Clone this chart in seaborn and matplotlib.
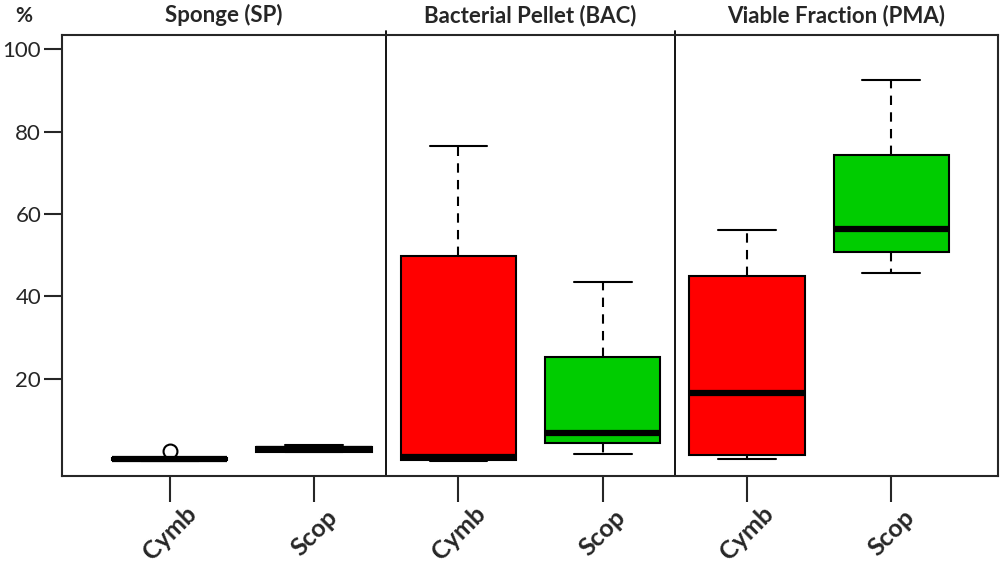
import pandas as pd
import matplotlib.pyplot as plt
import seaborn as sns

# Panels and groups
panels = ["Sponge (SP)", "Bacterial Pellet (BAC)", "Viable Fraction (PMA)"]
panel_keys = ["SP", "BAC", "PMA"]
species = ["Cymb", "Scop"]

# Values (whisker ends, hinges, median; SP Cymb has one outlier)
sp_cymb = [0.2, 0.3, 0.5, 0.5, 0.7, 0.8, 2.5]
sp_scop = [2.3, 2.4, 3.0, 3.6, 4.0]
bac_cymb = [0.1, 0.4, 1.0, 49.8, 76.6]
bac_scop = [1.8, 4.4, 7.0, 25.3, 43.5]
pma_cymb = [0.5, 1.55, 16.7, 45.0, 56.1]
pma_scop = [45.7, 50.9, 56.3, 74.4, 92.4]

y_ticks = [20, 40, 60, 80, 100]
colors = {"Cymb": "#FF0000", "Scop": "#00CC00"}

sns.set_style("ticks")
plt.rcParams["font.family"] = ["Lato", "DejaVu Sans"]

rows = []
groups = {
    "SP": (sp_cymb, sp_scop),
    "BAC": (bac_cymb, bac_scop),
    "PMA": (pma_cymb, pma_scop),
}
order = []
for key in panel_keys:
    for sp, vals in zip(species, groups[key]):
        name = f"{key} {sp}"
        order.append(name)
        for v in vals:
            rows.append({"group": name, "species": sp, "value": v})
df = pd.DataFrame(rows)

fig = plt.figure(figsize=(10, 5.66), dpi=100)
ax = fig.add_axes([0.062, 0.159, 0.936, 0.779])

sns.boxplot(
    data=df, x="group", y="value", hue="species", order=order,
    palette=colors, saturation=1, dodge=False, width=0.8, whis=1.5,
    linecolor="black", linewidth=1.5, fliersize=10, legend=False,
    medianprops=dict(color="black", linewidth=4.5, solid_capstyle="butt"),
    whiskerprops=dict(color="black", linewidth=1.5, linestyle=(0, (4.5, 3.5))),
    capprops=dict(color="black", linewidth=1.5),
    flierprops=dict(marker="o", markerfacecolor="none", markeredgecolor="black",
                    markeredgewidth=1.5),
    capwidths=0.4, ax=ax,
)

ax.set_xlim(-0.747, 5.74)
ax.set_ylim(-3.54, 103.4)
ax.set_xlabel("")
ax.set_ylabel("")

# x labels: centred under each tick, rotated 45 degrees
ax.set_xticks(range(len(order)))
ax.set_xticklabels([])
for i, lab in enumerate(species * 3):
    ax.text(i, -0.129, lab, transform=ax.get_xaxis_transform(), rotation=45,
            ha="center", va="center", rotation_mode="anchor",
            fontsize=18, fontweight="bold")

ax.set_yticks(y_ticks)
ax.set_yticklabels([str(t) for t in y_ticks], fontsize=16)
ax.tick_params(axis="y", length=13, width=1.5, pad=2)
ax.tick_params(axis="x", length=19, width=1.5)

for s in ax.spines.values():
    s.set_linewidth(1.5)
    s.set_visible(True)

# panel dividers
for xv in [1.5, 3.5]:
    ax.axvline(xv, ymin=0, ymax=1.01, color="black", linewidth=1.3, clip_on=False)

# panel titles
centers = [(-0.747 + 1.5) / 2, 2.5, (3.5 + 5.74) / 2]
for cx, title in zip(centers, panels):
    ax.text(cx, 1.045, title, transform=ax.get_xaxis_transform(),
            ha="center", va="center", fontsize=16, fontweight="bold")

fig.text(0.024, 1 - 16 / 566, "%", ha="center", va="center",
         fontsize=15, fontweight="bold")

fig.savefig("out.png", dpi=100)
